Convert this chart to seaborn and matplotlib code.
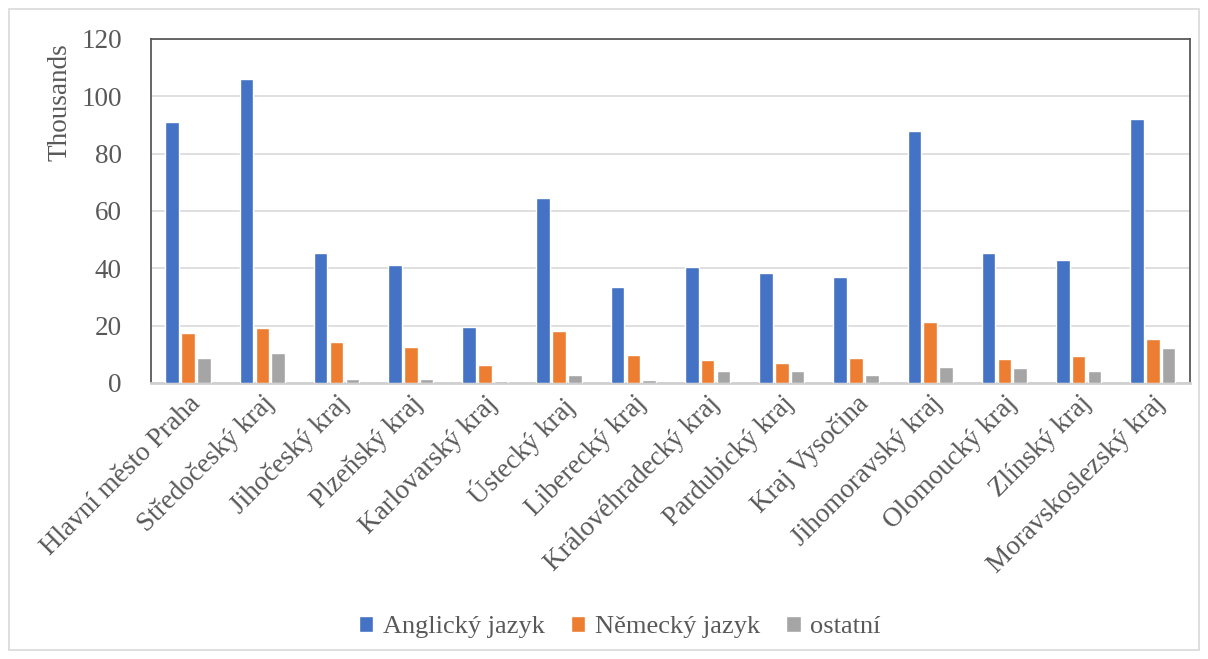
import matplotlib
matplotlib.use("Agg")
import matplotlib.pyplot as plt
import seaborn as sns
import pandas as pd
from matplotlib.patches import Rectangle

regions = ["Hlavní město Praha", "Středočeský kraj", "Jihočeský kraj", "Plzeňský kraj",
           "Karlovarský kraj", "Ústecký kraj", "Liberecký kraj", "Královéhradecký kraj",
           "Pardubický kraj", "Kraj Vysočina", "Jihomoravský kraj", "Olomoucký kraj",
           "Zlínský kraj", "Moravskoslezský kraj"]
series = ["Anglický jazyk", "Německý jazyk", "ostatní"]
anglicky = [91.1, 106.1, 45.4, 41.2, 19.4, 64.6, 33.5, 40.5, 38.4, 37.0, 88.0, 45.4, 42.9, 92.1]
nemecky = [17.3, 19.2, 14.3, 12.6, 6.3, 18.0, 9.8, 8.0, 7.1, 8.7, 21.3, 8.5, 9.4, 15.4]
ostatni = [8.8, 10.4, 1.4, 1.4, 0.5, 2.9, 1.0, 4.2, 4.2, 2.8, 5.5, 5.2, 4.2, 12.0]
colors = ["#4472C4", "#ED7D31", "#A5A5A5"]

df = pd.DataFrame({
    "kraj": regions * 3,
    "jazyk": [s for s in series for _ in regions],
    "hodnota": anglicky + nemecky + ostatni,
})

sns.set_style("white")
plt.rcParams["font.family"] = ["Liberation Serif", "DejaVu Serif"]

fig = plt.figure(figsize=(12.08, 6.59), dpi=100)
ax = fig.add_axes([0.125, 0.419, 0.860, 0.522])

sns.barplot(data=df, x="kraj", y="hodnota", hue="jazyk", palette=colors, saturation=1,
            width=0.64, gap=0.14, errorbar=None, ax=ax, legend=True, zorder=3)

ax.set_ylim(0, 120)
ax.set_yticks(range(0, 121, 20))
ax.set_xlim(-0.5, len(regions) - 0.5)
ax.grid(axis="y", color="#D9D9D9", linewidth=1.2, zorder=0)
ax.set_axisbelow(True)

txt = "#595959"
fs = 19.5
ax.tick_params(axis="y", labelsize=fs, colors=txt, length=0, pad=21)
ax.tick_params(axis="x", labelsize=fs, colors=txt, length=0, pad=6)
ax.set_xticks(range(len(regions)))
ax.set_xticklabels(regions, rotation=45, ha="right", rotation_mode="anchor")
ax.set_xlabel("")
ax.set_ylabel("Thousands", fontsize=fs, color=txt)
ax.yaxis.set_label_coords(-0.076, 0.817)

for side in ["left", "top", "right"]:
    ax.spines[side].set_color("#595959")
    ax.spines[side].set_linewidth(1.3)
ax.spines["bottom"].set_color("#D0D0D0")
ax.spines["bottom"].set_linewidth(2)

handles, labels = ax.get_legend_handles_labels()
ax.get_legend().remove()
fig.legend(handles, labels, loc="center", bbox_to_anchor=(0.5 + 0.013, 1 - 627 / 659),
           ncol=3, frameon=False, fontsize=19, handlelength=0.55, handleheight=0.55,
           columnspacing=1.0, handletextpad=0.35, labelcolor=txt)

fig.patches.append(Rectangle((9 / 1208, 9 / 659), 1190 / 1208, 641 / 659,
                             transform=fig.transFigure, fill=False,
                             edgecolor="#D9D9D9", linewidth=1.2))

fig.savefig("out.png", dpi=100, facecolor="white")
